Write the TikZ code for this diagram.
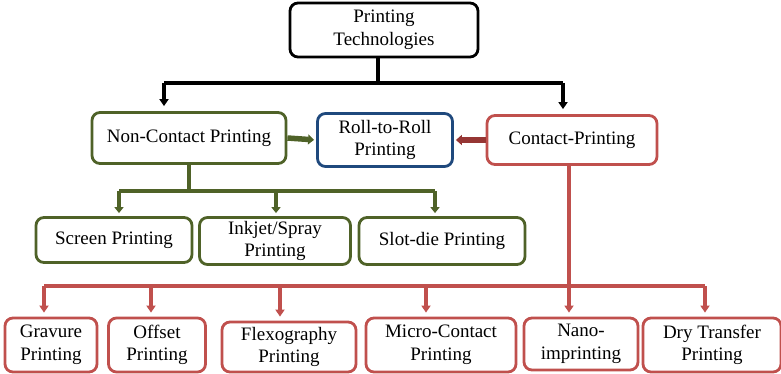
\documentclass[tikz,border=0pt]{standalone}
\usepackage{fontspec}
\setmainfont{Liberation Serif}
\usepackage{tikz}
\usetikzlibrary{arrows.meta}
\definecolor{techgreen}{RGB}{79,98,40}
\definecolor{techblue}{RGB}{31,73,125}
\definecolor{techred}{RGB}{192,80,77}
\definecolor{techdark}{RGB}{150,54,52}

\begin{document}
\begin{tikzpicture}[x=1pt, y=-1pt,
  every node/.style={inner sep=2pt},
  box/.style={draw, line width=2.8pt, rounded corners=8pt, fill=white,
    align=center, font=\fontsize{19}{22.5}\selectfont},
  blk/.style={line width=4.2pt, black},
  blkarr/.style={blk, -{Triangle[length=7pt,width=9pt]}, shorten >=5pt},
  grn/.style={line width=4.4pt, techgreen},
  grnarr/.style={grn, -{Triangle[length=6pt,width=9pt]}, shorten >=3pt},
  red/.style={line width=3.6pt, techred},
  redarr/.style={red, -{Triangle[length=7pt,width=9pt]}, shorten >=4pt}]
\useasboundingbox (0,0) rectangle (781,374);

% level 0 and 1
\node[box, minimum width=188pt, minimum height=54pt] (tech) at (384,30)
  {Printing\\Technologies};
\node[box, draw=techgreen, minimum width=194pt, minimum height=51pt] (noncon) at (189,138)
  {Non-Contact Printing};
\node[box, draw=techblue, minimum width=135pt, minimum height=53pt] (r2r) at (385,140)
  {Roll-to-Roll\\Printing};
\node[box, draw=techred, minimum width=170pt, minimum height=49pt] (contact) at (572,140)
  {Contact-Printing};

% non-contact methods
\node[box, draw=techgreen, minimum width=156pt, minimum height=45pt] (screen) at (114,240)
  {Screen Printing};
\node[box, draw=techgreen, minimum width=151pt, minimum height=47pt] (inkjet) at (275,241)
  {Inkjet/Spray\\Printing};
\node[box, draw=techgreen, minimum width=166pt, minimum height=47pt] (slotdie) at (442,241)
  {Slot-die Printing};

% contact methods
\node[box, draw=techred, minimum width=92pt, minimum height=54pt] (gravure) at (51,345)
  {Gravure\\Printing};
\node[box, draw=techred, minimum width=97pt, minimum height=54pt] (offset) at (157,345)
  {Offset\\Printing};
\node[box, draw=techred, minimum width=134pt, minimum height=50pt] (flexo) at (289,347)
  {Flexography\\Printing};
\node[box, draw=techred, minimum width=150pt, minimum height=54pt] (micro) at (441,345)
  {Micro-Contact\\Printing};
\node[box, draw=techred, minimum width=114pt, minimum height=52pt] (nano) at (581,344)
  {Nano-\\imprinting};
\node[box, draw=techred, minimum width=138pt, minimum height=54pt] (dry) at (712,345)
  {Dry Transfer\\Printing};

% bus points
\coordinate (tbus) at (378,83);
\coordinate (tl) at (164,83);
\coordinate (tr) at (563,83);
\coordinate (gbus) at (189,191);
\coordinate (g1) at (119,191);
\coordinate (g2) at (276,191);
\coordinate (g3) at (435,191);
\coordinate (rbus) at (569,286);
\coordinate (r1) at (44,286);
\coordinate (r2) at (151,286);
\coordinate (r3) at (280,286);
\coordinate (r4) at (426,286);
\coordinate (r6) at (705,286);

\draw[blk] (tech.south -| tbus) -- (tbus);
\draw[blk] (tl) -- (tr);
\draw[blkarr] (tl) -- (tl |- noncon.north);
\draw[blkarr] (tr) -- (tr |- contact.north);

\draw[grn, -{Triangle[length=6pt,width=10pt]}, line width=5.5pt, shorten >=2pt]
  (noncon.east) -- (r2r.west);
\draw[line width=5.5pt, techdark, -{Triangle[length=6pt,width=10pt]}, shorten >=2pt]
  (contact.west) -- (r2r.east);

\draw[grn] (noncon.south) -- (gbus);
\draw[grn] (g1) -- (g3);
\draw[grnarr] (g1) -- (g1 |- screen.north);
\draw[grnarr] (g2) -- (g2 |- inkjet.north);
\draw[grnarr] (g3) -- (g3 |- slotdie.north);

\draw[redarr] (contact.south -| rbus) -- (rbus |- nano.north);
\draw[red] (r1) -- (r6);
\draw[redarr] (r1) -- (r1 |- gravure.north);
\draw[redarr] (r2) -- (r2 |- offset.north);
\draw[redarr] (r3) -- (r3 |- flexo.north);
\draw[redarr] (r4) -- (r4 |- micro.north);
\draw[redarr] (r6) -- (r6 |- dry.north);
\end{tikzpicture}
\end{document}
